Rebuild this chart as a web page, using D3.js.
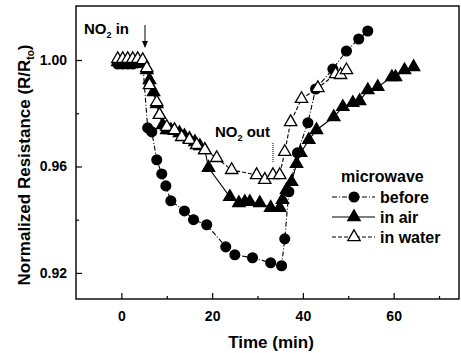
<!DOCTYPE html>
<html><head><meta charset="utf-8">
<script src="https://cdn.jsdelivr.net/npm/d3@7"></script>
<style>body{margin:0;background:#fff}svg{display:block}text{font-family:"Liberation Sans",Arial,sans-serif;font-weight:bold;fill:#000}</style>
</head><body><svg id="c" width="461" height="353"></svg>
<script>
const beforeX = [-0.8,0.3,1.4,2.5,3.6,4.7,5.8,6.7,7.8,8.9,9.8,10.9,13.9,15.9,18.8,23.0,25.0,28.9,32.9,35.3,36.0,36.9,38.8,41.1,42.8,46.6,49.6,52.3,54.3];
const beforeY = [0.9985,0.9985,0.9985,0.9985,0.9989,0.9989,0.9745,0.9730,0.9625,0.9572,0.9527,0.9471,0.9433,0.9400,0.9381,0.9298,0.9268,0.9257,0.9238,0.9227,0.9328,0.9505,0.9651,0.9764,0.9891,0.9966,1.0034,1.0079,1.0109];
const airX = [-0.8,0.3,1.4,2.5,3.6,4.7,5.6,6.2,7.1,7.8,8.4,9.1,10.0,10.9,11.7,12.8,13.9,15.0,16.2,17.3,18.4,19.2,23.9,25.9,27.2,28.3,30.5,32.9,34.9,35.5,36.4,37.5,38.6,39.5,41.3,43.0,46.8,48.8,51.0,52.5,54.3,56.5,59.6,60.4,62.4,64.4];
const airY = [0.9992,0.9992,0.9992,0.9992,0.9992,0.9992,0.9962,0.9925,0.9880,0.9835,0.9794,0.9756,0.9737,0.9737,0.9734,0.9726,0.9715,0.9704,0.9692,0.9677,0.9662,0.9595,0.9486,0.9463,0.9467,0.9467,0.9463,0.9445,0.9445,0.9475,0.9512,0.9542,0.9610,0.9651,0.9700,0.9737,0.9786,0.9824,0.9839,0.9846,0.9887,0.9899,0.9936,0.9936,0.9962,0.9974];
const waterX = [-0.8,0.3,1.4,2.5,3.6,4.7,5.6,6.2,7.8,8.4,10.0,11.7,13.3,15.0,16.6,18.4,21.0,24.3,29.8,31.6,33.4,34.9,36.0,37.3,39.7,43.3,47.2,48.3,49.6];
const waterY = [1.0004,1.0004,1.0004,1.0004,1.0004,1.0000,0.9970,0.9906,0.9842,0.9794,0.9749,0.9737,0.9711,0.9700,0.9681,0.9662,0.9632,0.9587,0.9568,0.9550,0.9568,0.9568,0.9655,0.9767,0.9854,0.9895,0.9947,0.9944,0.9962];
const xTicks = [0,20,40,60];
const yTicks = [0.92,0.96,1.00];
const legendLabels = ["before","in air","in water"];

const svg = d3.select("#c");
const L=76, R=459, T=6, B=299;
const x = d3.scaleLinear().domain([-10,74.4]).range([L,R]);
const y = d3.scaleLinear().domain([0.9102,1.0203]).range([B,T]);

svg.append("rect").attr("x",L).attr("y",T).attr("width",R-L).attr("height",B-T)
  .attr("fill","none").attr("stroke","#000").attr("stroke-width",1.4);

const xAx = d3.axisBottom(x).tickValues(xTicks).tickSize(-6).tickFormat(d3.format("d")).tickPadding(12);
const gx = svg.append("g").attr("transform",`translate(0,${B})`).call(xAx);
gx.select(".domain").remove();
gx.selectAll("text").attr("font-size",14).attr("font-family","Liberation Sans, Arial").attr("font-weight","bold");
const gxm = svg.append("g").attr("transform",`translate(0,${B})`).call(d3.axisBottom(x).tickValues([10,30,50,70]).tickSize(-3).tickFormat(""));
gxm.select(".domain").remove();

const yAx = d3.axisLeft(y).tickValues(yTicks).tickSize(-6).tickFormat(d3.format(".2f")).tickPadding(9);
const gy = svg.append("g").attr("transform",`translate(${L},0)`).call(yAx);
gy.select(".domain").remove();
gy.selectAll("text").attr("font-size",14).attr("font-family","Liberation Sans, Arial").attr("font-weight","bold");
const gym = svg.append("g").attr("transform",`translate(${L},0)`).call(d3.axisLeft(y).tickValues([0.94,0.98]).tickSize(-3).tickFormat(""));
gym.select(".domain").remove();
svg.selectAll(".tick line").attr("stroke-width",1.2);

svg.append("text").attr("x",271).attr("y",348).attr("text-anchor","middle").attr("font-size",17).text("Time (min)");
const yt = svg.append("text").attr("transform","translate(30,165) rotate(-90)").attr("text-anchor","middle").attr("font-size",17);
yt.append("tspan").text("Normalized Resistance  (R/R");
yt.append("tspan").attr("font-size",10).attr("dy",4).text("to");
yt.append("tspan").attr("dy",-4).text(")");

const series = [
  {xs:beforeX, ys:beforeY, sym:d3.symbolCircle, size:75, fill:"#000", dash:"5,2,1,2"},
  {xs:airX, ys:airY, sym:d3.symbolTriangle, size:66, fill:"#000", dash:null},
  {xs:waterX, ys:waterY, sym:d3.symbolTriangle, size:66, fill:"#fff", dash:"4,2"}
];
const line = d3.line().x(d=>x(d[0])).y(d=>y(d[1]));
series.forEach(s=>{
  const pts = s.xs.map((v,i)=>[v,s.ys[i]]);
  svg.append("path").attr("d",line(pts)).attr("fill","none").attr("stroke","#000").attr("stroke-width",1.1)
    .attr("stroke-dasharray",s.dash);
  svg.append("g").selectAll("path").data(pts).join("path")
    .attr("transform",d=>`translate(${x(d[0])},${y(d[1])})`)
    .attr("d",d3.symbol().type(s.sym).size(s.size))
    .attr("fill",s.fill).attr("stroke","#000").attr("stroke-width",1.3);
});

const a1 = svg.append("text").attr("x",84).attr("y",34).attr("font-size",15);
a1.append("tspan").text("NO");
a1.append("tspan").attr("font-size",9).attr("dy",4).text("2");
a1.append("tspan").attr("dy",-4).text(" in");
svg.append("line").attr("x1",145).attr("x2",145).attr("y1",25).attr("y2",44).attr("stroke","#000").attr("stroke-width",1);
svg.append("path").attr("d","M142,41 L145,48 L148,41 Z").attr("fill","#000");

const a2 = svg.append("text").attr("x",215).attr("y",137).attr("font-size",15);
a2.append("tspan").text("NO");
a2.append("tspan").attr("font-size",9).attr("dy",4).text("2");
a2.append("tspan").attr("dy",-4).text(" out");
svg.append("line").attr("x1",273).attr("x2",273).attr("y1",143).attr("y2",163).attr("stroke","#000").attr("stroke-width",1).attr("stroke-dasharray","1,1");

svg.append("text").attr("x",341).attr("y",182).attr("font-size",16).text("microwave");
legendLabels.forEach((lab,i)=>{
  const s = series[i];
  const cy = 197 + i*20;
  svg.append("line").attr("x1",332).attr("x2",375).attr("y1",cy).attr("y2",cy).attr("stroke","#000").attr("stroke-width",1.1).attr("stroke-dasharray",s.dash);
  svg.append("path").attr("transform",`translate(354,${cy})`).attr("d",d3.symbol().type(s.sym).size(s.size))
    .attr("fill",s.fill).attr("stroke","#000").attr("stroke-width",1.3);
  svg.append("text").attr("x",380).attr("y",cy+6).attr("font-size",16).text(lab);
});
</script></body></html>
